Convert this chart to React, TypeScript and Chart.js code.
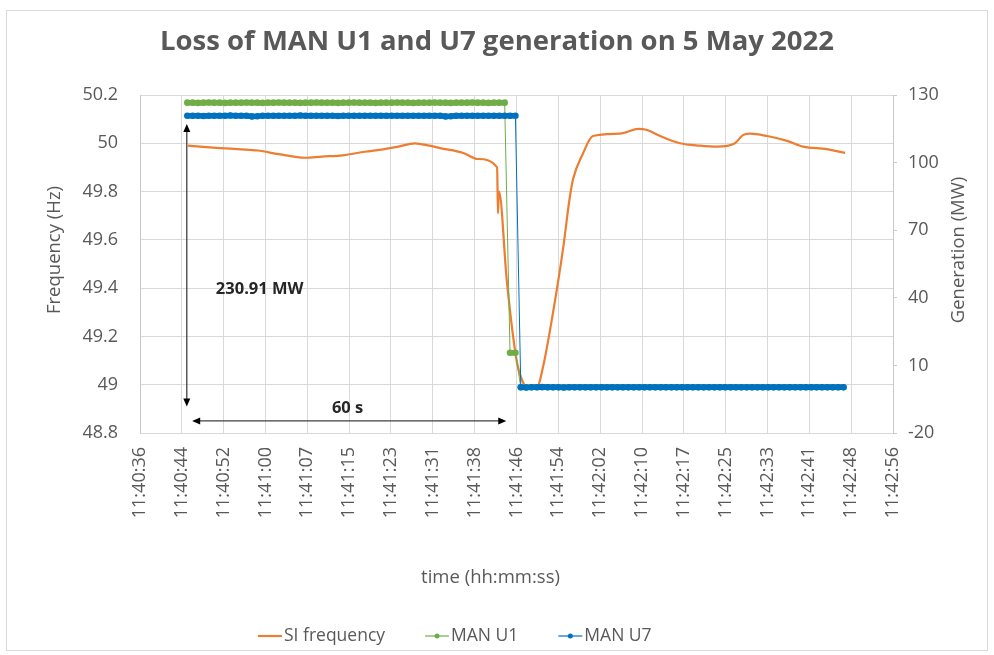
import { useEffect, useRef } from "react";
import { Chart, registerables } from "chart.js";

Chart.register(...registerables);

const FONT = "'Open Sans', 'Noto Sans', sans-serif";

// time values are seconds after 11:40:00
const BASE = 11 * 3600 + 40 * 60;

const freqSeconds = [
  45.1, 48, 51.1, 55, 58.1, 62, 66.9, 70, 73.9, 78, 81.4, 84, 87.3, 90, 92.0, 96.3, 99,
  102.6, 102.75, 102.95, 104.4, 106.3, 107.4, 108.2, 110.0, 111.1, 113.0, 114.9, 116.0,
  116.7, 118.6, 120.4, 125.4, 126.5, 128.8, 130.5, 132.9, 136.6, 140.3, 143.5, 146.8,
  148.3, 149.6, 152.8, 156.5, 159.5, 163.9, 167.3,
];
const freqHz = [
  49.99, 49.985, 49.98, 49.975, 49.97, 49.955, 49.94, 49.945, 49.95, 49.965, 49.975, 49.985,
  50.0, 49.99, 49.98, 49.96, 49.935, 49.9, 49.71, 49.8, 49.43, 49.09, 49.01, 48.99, 48.99,
  49.07, 49.3, 49.57, 49.76, 49.85, 49.96, 50.03, 50.04, 50.045, 50.06, 50.055, 50.03, 50.0,
  49.99, 49.986, 50.0, 50.034, 50.04, 50.03, 50.01, 49.986, 49.976, 49.96,
];

const genSeconds = [
  45, 46, 47, 48, 49, 50, 51, 52, 53, 54,
  55, 56, 57, 58, 59, 60, 61, 62, 63, 64,
  65, 66, 67, 68, 69, 70, 71, 72, 73, 74,
  75, 76, 77, 78, 79, 80, 81, 82, 83, 84,
  85, 86, 87, 88, 89, 90, 91, 92, 93, 94,
  95, 96, 97, 98, 99, 100, 101, 102, 103, 104,
  105, 106,
  107, 108, 109, 110, 111, 112, 113, 114, 115, 116,
  117, 118, 119, 120, 121, 122, 123, 124, 125, 126,
  127, 128, 129, 130, 131, 132, 133, 134, 135, 136,
  137, 138, 139, 140, 141, 142, 143, 144, 145, 146,
  147, 148, 149, 150, 151, 152, 153, 154, 155, 156,
  157, 158, 159, 160, 161, 162, 163, 164, 165, 166,
  167,
];
const u1MW = [
  126.6, 126.6, 126.5, 126.6, 126.7, 126.6, 126.6, 126.5, 126.6, 126.6,
  126.6, 126.7, 126.6, 126.6, 126.5, 126.6, 126.6, 126.7, 126.6, 126.6,
  126.6, 126.5, 126.6, 126.6, 126.7, 126.6, 126.6, 126.6, 126.5, 126.6,
  126.6, 126.7, 126.6, 126.6, 126.6, 126.5, 126.6, 126.6, 126.6, 126.7,
  126.6, 126.6, 126.5, 126.6, 126.6, 126.6, 126.7, 126.6, 126.6, 126.5,
  126.6, 126.6, 126.6, 126.7, 126.6, 126.6, 126.5, 126.6, 126.6, 126.6,
  15.6, 15.6,
  0.3, 0.3, 0.3, 0.3, 0.3, 0.3, 0.3, 0.3, 0.3, 0.3,
  0.3, 0.3, 0.3, 0.3, 0.3, 0.3, 0.3, 0.3, 0.3, 0.3,
  0.3, 0.3, 0.3, 0.3, 0.3, 0.3, 0.3, 0.3, 0.3, 0.3,
  0.3, 0.3, 0.3, 0.3, 0.3, 0.3, 0.3, 0.3, 0.3, 0.3,
  0.3, 0.3, 0.3, 0.3, 0.3, 0.3, 0.3, 0.3, 0.3, 0.3,
  0.3, 0.3, 0.3, 0.3, 0.3, 0.3, 0.3, 0.3, 0.3, 0.3,
  0.3,
];
const u7MW = [
  120.8, 120.8, 120.8, 120.7, 120.8, 120.8, 120.8, 120.8, 120.9, 120.8,
  120.8, 120.8, 120.5, 120.6, 120.8, 120.8, 120.8, 120.8, 120.8, 120.8,
  120.8, 120.9, 120.8, 120.8, 120.8, 120.8, 120.8, 120.8, 120.7, 120.8,
  120.8, 120.8, 120.8, 120.8, 120.8, 120.8, 120.8, 120.8, 120.8, 120.8,
  120.8, 120.8, 120.8, 120.8, 120.8, 120.8, 120.8, 120.8, 120.5, 120.6,
  120.8, 120.8, 120.8, 120.8, 120.8, 120.8, 120.8, 120.8, 120.8, 120.8,
  120.8, 120.8,
  0.3, 0.2, 0.3, 0.3, 0.4, 0.3, 0.3, 0.3, 0.2, 0.3,
  0.3, 0.3, 0.3, 0.3, 0.3, 0.3, 0.3, 0.3, 0.3, 0.3,
  0.3, 0.3, 0.3, 0.3, 0.3, 0.3, 0.3, 0.3, 0.3, 0.3,
  0.3, 0.3, 0.3, 0.3, 0.3, 0.3, 0.3, 0.3, 0.3, 0.3,
  0.3, 0.3, 0.3, 0.3, 0.3, 0.3, 0.3, 0.3, 0.3, 0.3,
  0.3, 0.3, 0.3, 0.3, 0.3, 0.3, 0.3, 0.3, 0.3, 0.3,
  0.3,
];

const xTickLabels = [
  "11:40:36", "11:40:44", "11:40:52", "11:41:00", "11:41:07", "11:41:15", "11:41:23",
  "11:41:31", "11:41:38", "11:41:46", "11:41:54", "11:42:02", "11:42:10", "11:42:17",
  "11:42:25", "11:42:33", "11:42:41", "11:42:48", "11:42:56",
];
const xAxisStart = 36.2; // seconds after 11:40:00
const xAxisEnd = 176.2;
const hzTicks = [48.8, 49, 49.2, 49.4, 49.6, 49.8, 50, 50.2];
const mwTicks = [-20, 10, 40, 70, 100, 130];

// annotations (data coordinates)
const mwArrow = { sec: 44.9, topHz: 50.08, bottomHz: 48.91, label: "230.91 MW", labelSec: 50.3, labelHz: 49.396 };
const secArrow = { fromSec: 45.9, toSec: 104.3, hz: 48.85, label: "60 s", labelSec: 74.8, labelHz: 48.903 };

const ORANGE = "#ED7D31";
const GREEN = "#70AD47";
const BLUE = "#0070C0";
const GREY_TEXT = "#595959";
const GRID = "#D9D9D9";

function drawHead(ctx: CanvasRenderingContext2D, x: number, y: number, dx: number, dy: number) {
  const len = 8;
  const half = 3.5;
  const px = -dy;
  const py = dx;
  ctx.beginPath();
  ctx.moveTo(x, y);
  ctx.lineTo(x - dx * len + px * half, y - dy * len + py * half);
  ctx.lineTo(x - dx * len - px * half, y - dy * len - py * half);
  ctx.closePath();
  ctx.fill();
}

// dense markers look like a thick bar: thicken the flat segments, keep the jumps thin
const segWidth = (c: any) => (Math.abs(c.p0.parsed.y - c.p1.parsed.y) < 5 ? 5.5 : 1);

const extrasPlugin = {
  id: "extras",
  beforeDraw(chart: any) {
    const ctx = chart.ctx as CanvasRenderingContext2D;
    ctx.save();
    ctx.fillStyle = "#ffffff";
    ctx.fillRect(0, 0, chart.width, chart.height);
    ctx.strokeStyle = "#D9D9D9";
    ctx.lineWidth = 1;
    ctx.strokeRect(6.5, 10.5, 981, 640);
    ctx.restore();
  },
  afterDraw(chart: any) {
    const ctx = chart.ctx as CanvasRenderingContext2D;
    const xs = chart.scales.x;
    const yh = chart.scales.yHz;
    const area = chart.chartArea;
    ctx.save();

    // arrows
    ctx.strokeStyle = "#404040";
    ctx.fillStyle = "#000000";
    ctx.lineWidth = 1.3;
    const vx = xs.getPixelForValue(BASE + mwArrow.sec);
    const vTop = yh.getPixelForValue(mwArrow.topHz);
    const vBot = yh.getPixelForValue(mwArrow.bottomHz);
    ctx.beginPath();
    ctx.moveTo(vx, vTop + 6);
    ctx.lineTo(vx, vBot - 6);
    ctx.stroke();
    drawHead(ctx, vx, vTop, 0, -1);
    drawHead(ctx, vx, vBot, 0, 1);

    const hy = yh.getPixelForValue(secArrow.hz);
    const hx1 = xs.getPixelForValue(BASE + secArrow.fromSec);
    const hx2 = xs.getPixelForValue(BASE + secArrow.toSec);
    ctx.beginPath();
    ctx.moveTo(hx1 + 6, hy);
    ctx.lineTo(hx2 - 6, hy);
    ctx.stroke();
    drawHead(ctx, hx1, hy, -1, 0);
    drawHead(ctx, hx2, hy, 1, 0);

    ctx.fillStyle = "#262626";
    ctx.font = `bold 16.5px ${FONT}`;
    ctx.textBaseline = "middle";
    ctx.textAlign = "left";
    ctx.fillText(mwArrow.label, xs.getPixelForValue(BASE + mwArrow.labelSec), yh.getPixelForValue(mwArrow.labelHz));
    ctx.textAlign = "center";
    ctx.fillText(secArrow.label, xs.getPixelForValue(BASE + secArrow.labelSec), yh.getPixelForValue(secArrow.labelHz));

    // axis titles
    ctx.fillStyle = GREY_TEXT;
    ctx.font = `18.5px ${FONT}`;
    ctx.textAlign = "center";
    ctx.textBaseline = "middle";
    const midY = (area.top + area.bottom) / 2 - 14;
    ctx.save();
    ctx.translate(area.left - 85, midY);
    ctx.rotate(-Math.PI / 2);
    ctx.fillText("Frequency (Hz)", 0, 0);
    ctx.restore();
    ctx.save();
    ctx.translate(area.right + 66, midY);
    ctx.rotate(-Math.PI / 2);
    ctx.fillText("Generation (MW)", 0, 0);
    ctx.restore();
    ctx.fillText("time (hh:mm:ss)", (area.left + area.right) / 2 - 26, area.bottom + 145);

    // legend
    ctx.font = `17.5px ${FONT}`;
    ctx.textAlign = "left";
    const ly = area.bottom + 203;
    let lx = 258;
    chart.data.datasets.forEach((ds: any) => {
      ctx.strokeStyle = ds.borderColor;
      ctx.lineWidth = ds.legendLineWidth;
      ctx.beginPath();
      ctx.moveTo(lx, ly);
      ctx.lineTo(lx + 24, ly);
      ctx.stroke();
      if (ds.pointRadius > 0) {
        ctx.fillStyle = ds.borderColor;
        ctx.beginPath();
        ctx.arc(lx + 12, ly, 2.5, 0, Math.PI * 2);
        ctx.fill();
      }
      ctx.fillStyle = GREY_TEXT;
      const tx = lx + 26;
      ctx.fillText(ds.label, tx, ly);
      lx = tx + ctx.measureText(ds.label).width + 40;
    });
    ctx.restore();
  },
};

export default function App() {
  const ref = useRef<HTMLCanvasElement | null>(null);

  useEffect(() => {
    document.body.style.margin = "0";
    if (!ref.current) return;
    const freqData = freqSeconds.map((s, i) => ({ x: BASE + s, y: freqHz[i] }));
    const u1Data = genSeconds.map((s, i) => ({ x: BASE + s, y: u1MW[i] }));
    const u7Data = genSeconds.map((s, i) => ({ x: BASE + s, y: u7MW[i] }));
    const xMin = BASE + xAxisStart;
    const xMax = BASE + xAxisEnd;
    const xStep = (xMax - xMin) / (xTickLabels.length - 1);

    const chart = new Chart(ref.current, {
      type: "line",
      data: {
        datasets: [
          {
            label: "SI frequency",
            data: freqData,
            yAxisID: "yHz",
            borderColor: ORANGE,
            backgroundColor: ORANGE,
            borderWidth: 2.2,
            pointRadius: 0,
            cubicInterpolationMode: "monotone",
            order: 2,
            legendLineWidth: 2.2,
          } as any,
          {
            label: "MAN U1",
            data: u1Data,
            yAxisID: "yMW",
            borderColor: GREEN,
            backgroundColor: GREEN,
            borderWidth: 1,
            segment: { borderWidth: segWidth },
            pointRadius: 3.3,
            pointBorderWidth: 0,
            pointBackgroundColor: GREEN,
            order: 1,
            legendLineWidth: 1.2,
          } as any,
          {
            label: "MAN U7",
            data: u7Data,
            yAxisID: "yMW",
            borderColor: BLUE,
            backgroundColor: BLUE,
            borderWidth: 1,
            segment: { borderWidth: segWidth },
            pointRadius: 3.3,
            pointBorderWidth: 0,
            pointBackgroundColor: BLUE,
            order: 0,
            legendLineWidth: 1.2,
          } as any,
        ],
      },
      options: {
        animation: false,
        responsive: false,
        maintainAspectRatio: false,
        parsing: true,
        layout: { padding: 0 },
        plugins: {
          legend: { display: false },
          tooltip: { enabled: false },
          title: {
            display: true,
            text: "Loss of MAN U1 and U7 generation on 5 May 2022",
            color: GREY_TEXT,
            font: { family: FONT, size: 27.5, weight: "bold" },
            padding: { top: 26, bottom: 36 },
          },
        },
        scales: {
          x: {
            type: "linear",
            min: xMin,
            max: xMax,
            afterBuildTicks: (scale: any) => {
              scale.ticks = xTickLabels.map((_, i) => ({ value: xMin + i * xStep }));
            },
            afterFit: (scale: any) => {
              scale.height = 222;
            },
            ticks: {
              autoSkip: false,
              minRotation: 90,
              maxRotation: 90,
              padding: 14,
              color: GREY_TEXT,
              font: { family: FONT, size: 18 },
              callback: (_v: any, i: number) => xTickLabels[i],
            },
            grid: { color: GRID, drawTicks: false, lineWidth: 1 },
            border: { display: false },
          },
          yHz: {
            type: "linear",
            position: "left",
            min: 48.8,
            max: 50.2,
            afterBuildTicks: (scale: any) => {
              scale.ticks = hzTicks.map((v) => ({ value: v }));
            },
            afterFit: (scale: any) => {
              scale.width = 140;
            },
            ticks: {
              padding: 22,
              color: GREY_TEXT,
              font: { family: FONT, size: 18 },
              callback: (v: any) => String(Math.round(Number(v) * 10) / 10),
            },
            grid: { color: GRID, drawTicks: false, lineWidth: 1 },
            border: { display: true, color: "#C8C8C8" },
          },
          yMW: {
            type: "linear",
            position: "right",
            min: -20,
            max: 130,
            afterBuildTicks: (scale: any) => {
              scale.ticks = mwTicks.map((v) => ({ value: v }));
            },
            afterFit: (scale: any) => {
              scale.width = 101;
            },
            ticks: {
              padding: 11,
              color: GREY_TEXT,
              font: { family: FONT, size: 18 },
            },
            grid: { drawOnChartArea: false, drawTicks: true, tickLength: 4, color: "#C8C8C8" },
            border: { display: true, color: "#C8C8C8" },
          },
        },
      } as any,
      plugins: [extrasPlugin],
    });
    return () => chart.destroy();
  }, []);

  return (
    <div style={{ width: 994, height: 655 }}>
      <canvas ref={ref} width={994} height={655} style={{ display: "block" }} />
    </div>
  );
}
